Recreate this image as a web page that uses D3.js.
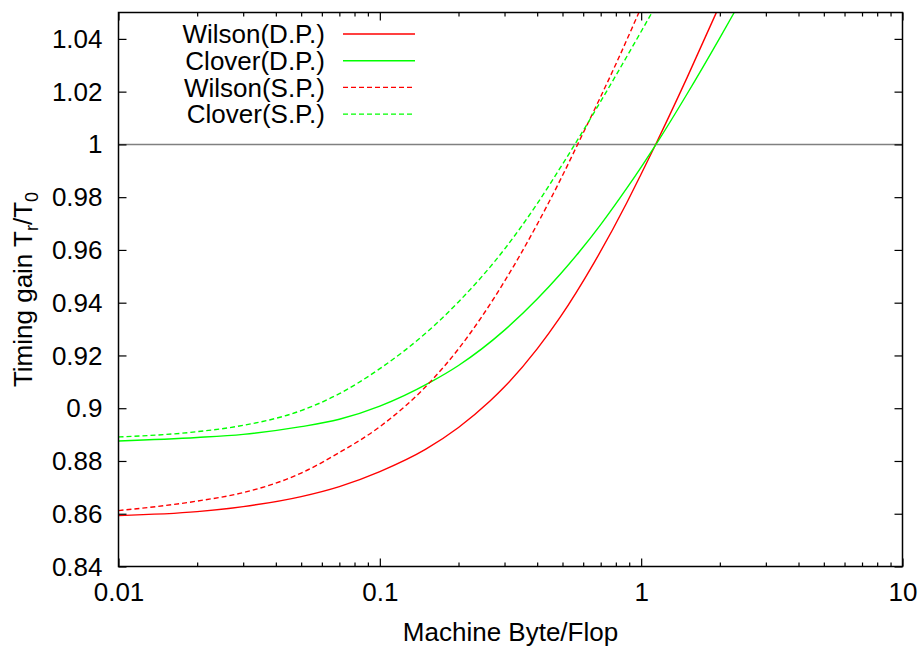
<!DOCTYPE html>
<html>
<head>
<meta charset="utf-8">
<script src="https://cdn.jsdelivr.net/npm/d3@7"></script>
<style>
    body { margin: 0; background: #fff; }
    text { font-family: "Liberation Sans", Arial, Helvetica, sans-serif; fill: #000; }
</style>
</head>
<body>
<script>
// timing gain vs machine byte/flop

// chart size
var w = 924, h = 648;

// series values
var wilsonDPx = [0.01, 0.02, 0.03, 0.05, 0.07, 0.1, 0.15, 0.2, 0.264, 0.3, 0.4, 0.49, 0.66, 0.88, 1.0, 1.13, 1.5, 1.94];
var wilsonDPy = [0.8593, 0.8608, 0.8627, 0.8665, 0.8703, 0.876, 0.8845, 0.8927, 0.9027, 0.9081, 0.9225, 0.9345, 0.9551, 0.9778, 0.9888, 0.9995, 1.0254, 1.05];

var cloverDPx = [0.01, 0.02, 0.03, 0.05, 0.07, 0.1, 0.155, 0.2, 0.3, 0.4, 0.49, 0.58, 0.7, 0.88, 1.0, 1.14, 1.5, 2.0, 2.27];
var cloverDPy = [0.8876, 0.8889, 0.8901, 0.893, 0.8958, 0.9008, 0.9097, 0.9162, 0.9296, 0.9414, 0.9508, 0.9593, 0.9696, 0.9833, 0.9914, 1.0, 1.0192, 1.0404, 1.05];

var wilsonSPx = [0.01, 0.02, 0.03, 0.05, 0.07, 0.1, 0.155, 0.2, 0.3, 0.4, 0.5, 0.57, 0.7, 0.8, 0.98];
var wilsonSPy = [0.8612, 0.8648, 0.868, 0.8754, 0.8832, 0.893, 0.9097, 0.9225, 0.9481, 0.9697, 0.9882, 0.9998, 1.0181, 1.0304, 1.05];

var cloverSPx = [0.01, 0.02, 0.03, 0.05, 0.07, 0.1, 0.15, 0.2, 0.3, 0.4, 0.5, 0.555, 0.7, 0.8, 1.0, 1.1];
var cloverSPy = [0.8891, 0.8911, 0.8935, 0.8991, 0.9055, 0.915, 0.9285, 0.9403, 0.9603, 0.9775, 0.9925, 0.9997, 1.0163, 1.0261, 1.0428, 1.05];

// legend names
var seriesNames = ["Wilson(D.P.)", "Clover(D.P.)", "Wilson(S.P.)", "Clover(S.P.)"];

// ticks
var xTicks = [0.01, 0.1, 1, 10];
var xMinorTicks = [0.02, 0.03, 0.04, 0.05, 0.06, 0.07, 0.08, 0.09,
    0.2, 0.3, 0.4, 0.5, 0.6, 0.7, 0.8, 0.9,
    2, 3, 4, 5, 6, 7, 8, 9];
var yTicks = [0.84, 0.86, 0.88, 0.9, 0.92, 0.94, 0.96, 0.98, 1, 1.02, 1.04];
var refLine = 1;

window.onload = function () {
    var svg = d3.select("body")
        .append("svg")
        .attr("width", w)
        .attr("height", h);

    // plot frame edges
    var left = 118.5, right = 902.5, top = 12.5, bottom = 566.5;

    var x = d3.scaleLog()
        .domain([0.01, 10])
        .range([left, right]);

    var y = d3.scaleLinear()
        .domain([0.84, 1.05])
        .range([bottom, top]);

    // build series table from the arrays
    var series = [
        { name: seriesNames[0], xs: wilsonDPx, ys: wilsonDPy, color: "#ff0000", dash: null },
        { name: seriesNames[1], xs: cloverDPx, ys: cloverDPy, color: "#00ff00", dash: null },
        { name: seriesNames[2], xs: wilsonSPx, ys: wilsonSPy, color: "#ff0000", dash: "5,3" },
        { name: seriesNames[3], xs: cloverSPx, ys: cloverSPy, color: "#00ff00", dash: "5,3" }
    ];
    series.forEach(function (s) {
        s.points = s.xs.map(function (d, i) { return [d, s.ys[i]]; });
    });

    // clip for the curves
    svg.append("clipPath")
        .attr("id", "clip")
        .append("rect")
        .attr("x", left)
        .attr("y", top)
        .attr("width", right - left)
        .attr("height", bottom - top);

    // horizontal line at 1
    svg.append("line")
        .attr("x1", left)
        .attr("x2", right)
        .attr("y1", y(refLine))
        .attr("y2", y(refLine))
        .style("stroke", "#808080")
        .style("stroke-width", 1.5);

    var line = d3.line()
        .x(function (d) { return x(d[0]); })
        .y(function (d) { return y(d[1]); })
        .curve(d3.curveMonotoneX);

    svg.append("g")
        .attr("clip-path", "url(#clip)")
        .selectAll(".curve")
        .data(series)
        .enter()
        .append("path")
        .attr("class", "curve")
        .attr("d", function (d) { return line(d.points); })
        .style("fill", "none")
        .style("stroke", function (d) { return d.color; })
        .style("stroke-width", 1.4)
        .style("stroke-dasharray", function (d) { return d.dash; });

    // tick label format: 1, 0.9, 0.84 ...
    var fmt = function (d) { return String(+d.toFixed(2)); };

    // bottom axis, inward ticks
    svg.append("g")
        .attr("transform", "translate(0," + bottom + ")")
        .call(d3.axisBottom(x).tickValues(xTicks).tickSize(-8).tickPadding(16).tickFormat(fmt));
    svg.append("g")
        .attr("transform", "translate(0," + bottom + ")")
        .call(d3.axisBottom(x).tickValues(xMinorTicks).tickSize(-4).tickFormat(""));

    // top axis mirror ticks
    svg.append("g")
        .attr("transform", "translate(0," + top + ")")
        .call(d3.axisTop(x).tickValues(xTicks).tickSize(-8).tickFormat(""));
    svg.append("g")
        .attr("transform", "translate(0," + top + ")")
        .call(d3.axisTop(x).tickValues(xMinorTicks).tickSize(-4).tickFormat(""));

    // left axis
    var yAxis = svg.append("g")
        .attr("transform", "translate(" + left + ",0)")
        .call(d3.axisLeft(y).tickValues(yTicks).tickSize(-8).tickPadding(16).tickFormat(fmt));

    // right axis mirror ticks
    svg.append("g")
        .attr("transform", "translate(" + right + ",0)")
        .call(d3.axisRight(y).tickValues(yTicks).tickSize(-8).tickFormat(""));

    // tidy up all axes
    svg.selectAll(".domain").remove();
    svg.selectAll(".tick line").style("stroke", "#000").style("stroke-width", 1.2);
    svg.selectAll(".tick text")
        .attr("font-size", null)
        .style("font-size", "26px")
        .style("font-family", "'Liberation Sans', Arial, sans-serif");
    yAxis.selectAll(".tick text").attr("dy", "0.33em");

    // frame
    svg.append("rect")
        .attr("x", left)
        .attr("y", top)
        .attr("width", right - left)
        .attr("height", bottom - top)
        .style("fill", "none")
        .style("stroke", "#000")
        .style("stroke-width", 1.5);

    // x axis title
    svg.append("text")
        .attr("x", (left + right) / 2)
        .attr("y", 641)
        .attr("text-anchor", "middle")
        .style("font-size", "26px")
        .text("Machine Byte/Flop");

    // y axis title with subscripts
    var yTitle = svg.append("text")
        .attr("transform", "translate(32," + (top + bottom) / 2 + ") rotate(-90)")
        .attr("text-anchor", "middle")
        .style("font-size", "26px");
    yTitle.append("tspan").text("Timing gain T");
    yTitle.append("tspan").attr("dy", 6).style("font-size", "18px").text("r");
    yTitle.append("tspan").attr("dy", -6).text("/T");
    yTitle.append("tspan").attr("dy", 6).style("font-size", "18px").text("0");

    // legend
    var legend = svg.selectAll(".legend")
        .data(series)
        .enter()
        .append("g")
        .attr("class", "legend")
        .attr("transform", function (d, i) {
            return "translate(0," + (34 + i * 26.7) + ")";
        });

    legend.append("text")
        .attr("x", 325)
        .attr("y", 0)
        .attr("dy", "0.35em")
        .attr("text-anchor", "end")
        .style("font-size", "26px")
        .text(function (d) { return d.name; });

    legend.append("line")
        .attr("x1", 343)
        .attr("x2", 415)
        .attr("y1", 0)
        .attr("y2", 0)
        .style("stroke", function (d) { return d.color; })
        .style("stroke-width", 1.4)
        .style("stroke-dasharray", function (d) { return d.dash; });
};
</script>
</body>
</html>
